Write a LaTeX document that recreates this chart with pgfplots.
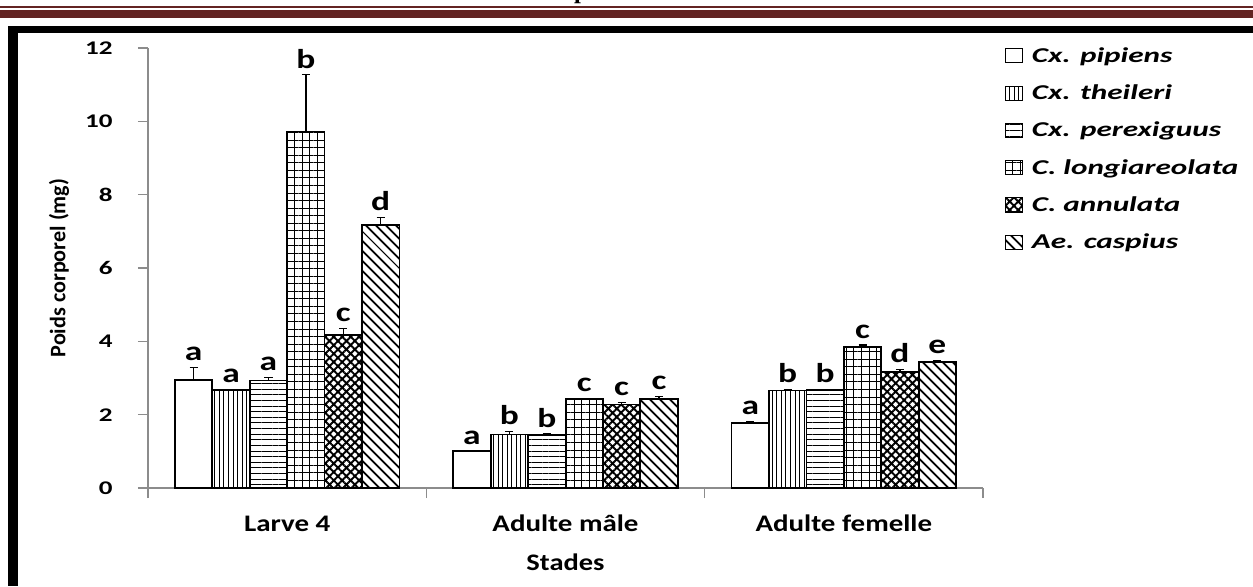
\documentclass[border=0pt]{standalone}
\usepackage{fontspec}
\setmainfont{Carlito}
\newfontfamily\headserif{Liberation Serif}
\usepackage{pgfplots}
\pgfplotsset{compat=1.18}
\usepackage{pgfplotstable}
\usetikzlibrary{patterns.meta}
\definecolor{hdrred}{HTML}{632423}
\definecolor{axgray}{HTML}{8C8C8C}

% x = stade (0 Larve 4, 1 Adulte male, 2 Adulte femelle), y = poids (mg), err, lettre
\pgfplotstableread{
x y err lab
0 2.95 0.33 a
1 1.00 0.00 a
2 1.77 0.04 a
}\tpip
\pgfplotstableread{
x y err lab
0 2.68 0.00 a
1 1.46 0.08 b
2 2.66 0.02 b
}\tthe
\pgfplotstableread{
x y err lab
0 2.93 0.08 a
1 1.44 0.03 b
2 2.67 0.02 b
}\tper
\pgfplotstableread{
x y err lab
0 9.72 1.55 b
1 2.42 0.02 c
2 3.85 0.05 c
}\tlon
\pgfplotstableread{
x y err lab
0 4.17 0.18 c
1 2.28 0.05 c
2 3.16 0.07 d
}\tann
\pgfplotstableread{
x y err lab
0 7.17 0.20 d
1 2.42 0.07 c
2 3.44 0.03 e
}\tcas

\begin{document}
\begin{tikzpicture}
\path[use as bounding box] (0,0) rectangle (25.06,11.72);
\fill[white] (0,0) rectangle (25.06,11.72);
% page header and frame
\node[anchor=base, font=\headserif\bfseries\fontsize{14}{14}\selectfont, inner sep=0pt] at (11.62,11.74) {p};
\draw[hdrred, line width=0.04cm] (0,11.58) -- (25.06,11.58);
\draw[hdrred, line width=0.16cm] (0,11.43) -- (25.06,11.43);
\draw[black, line width=0.14cm] (0.16,11.13) -- (25.06,11.13);
\fill[black] (0.16,0) rectangle (0.36,11.20);

\begin{axis}[
  at={(2.96cm,1.96cm)}, anchor=south west,
  scale only axis, width=16.7cm, height=8.8cm,
  xmin=-0.5, xmax=2.5, ymin=0, ymax=12,
  ybar=0pt, bar width=0.1344,
  axis x line*=bottom, axis y line*=left,
  axis line style={axgray, line width=0.8pt, -},
  tick align=outside, major tick length=5.7pt,
  tick style={axgray, line width=0.8pt},
  xtick={-0.5,0.5,1.5,2.5}, xticklabels={},
  extra x ticks={0,1,2},
  extra x tick labels={Larve 4, Adulte mâle, Adulte femelle},
  extra x tick style={major tick length=0pt},
  xticklabel style={font=\fontsize{13.5}{13.5}\selectfont\bfseries, xscale=1.22, anchor=base, yshift=-25pt},
  ytick={0,2,...,12},
  yticklabel style={font=\fontsize{11}{11}\selectfont\bfseries, xscale=1.4, xshift=-6.8pt},
  /pgf/number format/assume math mode=true,
  ylabel={Poids corporel (mg)},
  ylabel style={at={(axis description cs:-0.1066,0.5)}, anchor=center, font=\fontsize{12.6}{12.6}\selectfont\bfseries},
  xlabel={Stades},
  xlabel style={at={(axis description cs:0.5,-0.168)}, anchor=center, font=\fontsize{13.5}{13.5}\selectfont\bfseries, xscale=1.2},
  legend style={at={(axis description cs:1.020,1.014)}, anchor=north west, draw=none, fill=none,
    font=\fontsize{12}{13}\selectfont\bfseries\itshape, row sep=9.3pt,
    nodes={inner sep=1pt, xscale=1.48}},
  legend cell align=left,
  legend image code/.code={\draw[#1, line width=0.6pt] (0pt,-3.8pt) rectangle (9.5pt,4.2pt);},
  /tikz/every odd column/.append style={column sep=3.5pt},
  error bars/y dir=plus, error bars/y explicit,
  error bars/error bar style={black, line width=0.8pt},
  error bars/error mark options={rotate=90, black, mark size=2.3pt, line width=0.8pt},
  nodes near coords, point meta=explicit symbolic,
  visualization depends on={20.8*\thisrow{err} \as \errshift},
  every node near coord/.append style={yshift=\errshift pt, font=\fontsize{15.5}{15.5}\selectfont\bfseries, xscale=1.3, black},
]
\addplot[draw=black, line width=1pt, fill=white]
  table[x=x, y=y, y error=err, meta=lab] {\tpip};
\addplot[draw=black, line width=1pt, pattern={Lines[angle=90, distance=2.6pt, line width=0.55pt]}, pattern color=black]
  table[x=x, y=y, y error=err, meta=lab] {\tthe};
\addplot[draw=black, line width=1pt, pattern={Lines[angle=0, distance=3.2pt, line width=0.55pt]}, pattern color=black]
  table[x=x, y=y, y error=err, meta=lab] {\tper};
\addplot[draw=black, line width=1pt, pattern={Hatch[angle=0, distance=4.3pt, line width=0.55pt]}, pattern color=black]
  table[x=x, y=y, y error=err, meta=lab] {\tlon};
\addplot[draw=black, line width=1pt, pattern={Hatch[angle=45, distance=3.4pt, line width=1.1pt]}, pattern color=black]
  table[x=x, y=y, y error=err, meta=lab] {\tann};
\addplot[draw=black, line width=1pt, pattern={Lines[angle=-45, distance=4pt, line width=1.1pt]}, pattern color=black]
  table[x=x, y=y, y error=err, meta=lab] {\tcas};
\legend{Cx. pipiens, Cx. theileri, Cx. perexiguus, C. longiareolata, C. annulata, Ae. caspius}
\end{axis}
\end{tikzpicture}
\end{document}
